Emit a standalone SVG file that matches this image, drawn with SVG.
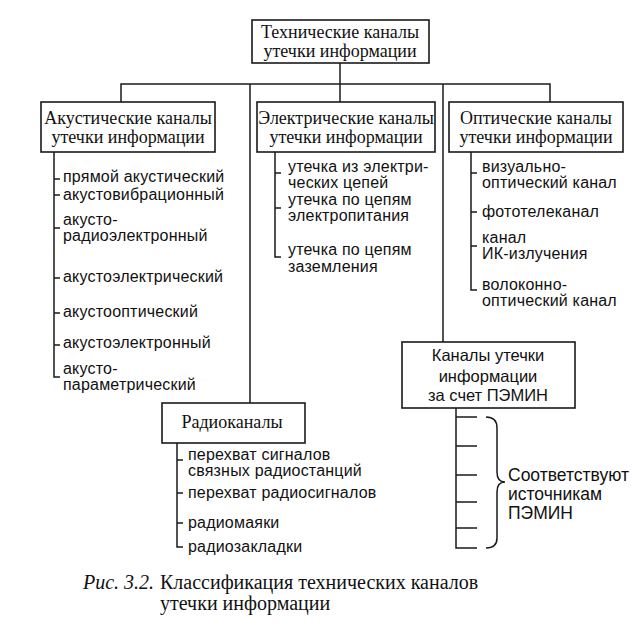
<svg xmlns="http://www.w3.org/2000/svg" width="634" height="640" viewBox="0 0 634 640">
<style>
.box{fill:#fff;stroke:#1a1a1a;stroke-width:1.6}
.ln{fill:none;stroke:#1a1a1a;stroke-width:1.5}
.ser{font-family:"Liberation Serif","Times New Roman",serif;font-size:18px;fill:#111;text-anchor:middle}
.san{font-family:"Liberation Sans",Arial,sans-serif;font-size:16px;fill:#111;letter-spacing:0.2px}
.sanc{font-family:"Liberation Sans",Arial,sans-serif;font-size:16.5px;fill:#111;text-anchor:middle}
.note{font-family:"Liberation Sans",Arial,sans-serif;font-size:17.5px;fill:#111}
.cap{font-family:"Liberation Serif","Times New Roman",serif;font-size:20px;fill:#111}
</style>
<rect width="634" height="640" fill="#fff"/>
<g id="connectors" class="ln">
<path d="M340,63 V102"/>
<path d="M121,102 V84 H550 V102"/>
<path d="M250,84 V403"/>
<path d="M443,84 V342"/>
<path d="M54,152 V377 H60 M54,179 H60 M54,195 H60 M54,228 H60 M54,278 H60 M54,313 H60 M54,345 H60"/>
<path d="M275,152 V257 H281 M275,173 H281 M275,208 H281"/>
<path d="M471,152 V290 H477 M471,173 H477 M471,212 H477 M471,246 H477"/>
<path d="M177,443 V547 H183 M177,460 H183 M177,493 H183 M177,523 H183"/>
<path d="M456,408 V548 H477 M456,417 H477 M456,446 H477 M456,475 H477 M456,502 H477 M456,528 H477"/>
<path d="M486,417 Q497,417 497,428 L497,472 Q497,482 505,482 Q497,482 497,492 L497,538 Q497,548 486,548"/>
</g>
<g id="root">
<rect class="box" x="252" y="20" width="177" height="43"/>
<text class="ser" x="340" y="38">Технические каналы</text>
<text class="ser" x="340" y="57">утечки информации</text>
</g>
<g id="acoustic">
<rect class="box" x="41" y="102" width="174" height="50"/>
<text class="ser" x="128" y="124">Акустические каналы</text>
<text class="ser" x="128" y="143">утечки информации</text>
</g>
<g id="electric">
<rect class="box" x="257" y="102" width="178" height="50"/>
<text class="ser" x="346" y="124">Электрические каналы</text>
<text class="ser" x="346" y="143">утечки информации</text>
</g>
<g id="optical">
<rect class="box" x="449" y="102" width="174" height="50"/>
<text class="ser" x="536" y="124">Оптические каналы</text>
<text class="ser" x="536" y="143">утечки информации</text>
</g>
<g id="acoustic-items" class="san">
<text x="63" y="182">прямой акустический</text>
<text x="63" y="200">акустовибрационный</text>
<text x="63" y="225">акусто-</text>
<text x="63" y="241">радиоэлектронный</text>
<text x="63" y="282">акустоэлектрический</text>
<text x="63" y="317">акустооптический</text>
<text x="63" y="348">акустоэлектронный</text>
<text x="63" y="374">акусто-</text>
<text x="63" y="390">параметрический</text>
</g>
<g id="electric-items" class="san">
<text x="288" y="171.5">утечка из электри-</text>
<text x="288" y="187.5">ческих цепей</text>
<text x="288" y="204.5">утечка по цепям</text>
<text x="288" y="220.5">электропитания</text>
<text x="288" y="255">утечка по цепям</text>
<text x="288" y="272">заземления</text>
</g>
<g id="optical-items" class="san">
<text x="482" y="171.5">визуально-</text>
<text x="482" y="187.5">оптический канал</text>
<text x="482" y="217">фототелеканал</text>
<text x="482" y="243">канал</text>
<text x="482" y="259">ИК-излучения</text>
<text x="482" y="289.5">волоконно-</text>
<text x="482" y="305.5">оптический канал</text>
</g>
<g id="radio">
<rect class="box" x="162" y="403" width="143" height="40"/>
<text class="ser" x="232" y="428">Радиоканалы</text>
</g>
<g id="radio-items" class="san">
<text x="188" y="459.5">перехват сигналов</text>
<text x="188" y="475.5">связных радиостанций</text>
<text x="188" y="498">перехват радиосигналов</text>
<text x="188" y="528">радиомаяки</text>
<text x="188" y="552">радиозакладки</text>
</g>
<g id="pemin">
<rect class="box" x="402" y="342" width="173" height="66"/>
<text class="sanc" x="488" y="361">Каналы утечки</text>
<text class="sanc" x="488" y="382">информации</text>
<text class="sanc" x="488" y="401">за счет ПЭМИН</text>
</g>
<g id="pemin-note" class="note">
<text x="508" y="481">Соответствуют</text>
<text x="508" y="500">источникам</text>
<text x="508" y="519">ПЭМИН</text>
</g>
<g id="caption" class="cap">
<text x="83" y="589" font-style="italic">Рис. 3.2.</text>
<text x="160" y="589">Классификация технических каналов</text>
<text x="160" y="610">утечки информации</text>
</g>
</svg>
